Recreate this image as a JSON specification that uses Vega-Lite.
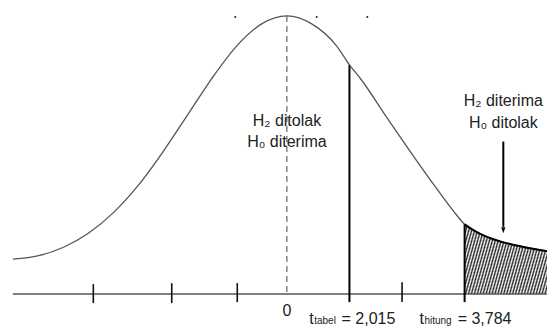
{
  "$schema": "https://vega.github.io/schema/vega-lite/v6.json",
  "width": 551,
  "height": 327,
  "autosize": {"type": "fit", "contains": "padding"},
  "padding": 0,
  "background": "white",
  "config": {"view": {"stroke": null}},
  "datasets": {
    "curve": [
      {"x": -8.832, "y": 0.14}, {"x": -8.0, "y": 0.154}, {"x": -7.2, "y": 0.188},
      {"x": -6.4, "y": 0.244}, {"x": -5.6, "y": 0.326}, {"x": -4.8, "y": 0.435},
      {"x": -4.0, "y": 0.57}, {"x": -3.2, "y": 0.719}, {"x": -2.4, "y": 0.869},
      {"x": -1.6, "y": 0.998}, {"x": -0.8, "y": 1.085}, {"x": 0, "y": 1.116},
      {"x": 0.8, "y": 1.084}, {"x": 1.6, "y": 0.996}, {"x": 2.016, "y": 0.92},
      {"x": 2.4, "y": 0.86}, {"x": 3.2, "y": 0.712}, {"x": 4.0, "y": 0.568},
      {"x": 4.8, "y": 0.428}, {"x": 5.376, "y": 0.332}, {"x": 5.728, "y": 0.28},
      {"x": 6.08, "y": 0.252}, {"x": 6.656, "y": 0.22}, {"x": 7.36, "y": 0.196},
      {"x": 8.384, "y": 0.172}
    ],
    "shade": [
      {"x": 5.728, "y": 0.28}, {"x": 6.08, "y": 0.252}, {"x": 6.656, "y": 0.22},
      {"x": 7.36, "y": 0.196}, {"x": 8.384, "y": 0.172}
    ],
    "axis": [{"x": -8.832, "x2": 8.384, "y": 0}],
    "ticks": [
      {"x": -6.24, "y": 0.04, "y2": -0.036}, {"x": -3.712, "y": 0.044, "y2": -0.036},
      {"x": -1.6, "y": 0.044, "y2": -0.032}, {"x": 3.712, "y": 0.048, "y2": -0.032}
    ],
    "vlines": [
      {"x": 2.016, "y": 0.92, "y2": -0.032},
      {"x": 5.728, "y": 0.28, "y2": -0.032}
    ],
    "dashed": [{"x": 0, "y": 1.116, "y2": 0.008}],
    "arrow": [{"x": 6.976, "y": 0.612, "y2": 0.27}],
    "arrowhead": [{"x": 6.976, "y": 0.256}],
    "dots": [{"x": -1.664, "y": 1.112}, {"x": 0.96, "y": 1.112}, {"x": 2.592, "y": 1.112}],
    "labels": [
      {"x": 0, "y": 0.676, "label": "H₂ ditolak"},
      {"x": 0, "y": 0.592, "label": "H₀ diterima"},
      {"x": 6.976, "y": 0.756, "label": "H₂ diterima"},
      {"x": 6.976, "y": 0.668, "label": "H₀ ditolak"},
      {"x": 0, "y": -0.088, "label": "0"}
    ],
    "bigleft": [
      {"x": 0.72, "y": -0.12, "label": "t"},
      {"x": 1.76, "y": -0.12, "label": "= 2,015"},
      {"x": 4.272, "y": -0.12, "label": "t"},
      {"x": 5.504, "y": -0.12, "label": "= 3,784"}
    ],
    "subs": [
      {"x": 0.88, "y": -0.12, "label": "tabel"},
      {"x": 4.432, "y": -0.12, "label": "hitung"}
    ]
  },
  "encoding": {
    "x": {"field": "x", "type": "quantitative", "scale": {"domain": [-9.248, 8.384], "nice": false, "zero": false}, "axis": null},
    "y": {"field": "y", "type": "quantitative", "scale": {"domain": [-0.128, 1.18], "nice": false, "zero": false}, "axis": null}
  },
  "layer": [
    {
      "data": {"name": "shade"},
      "mark": {
        "type": "area",
        "interpolate": "monotone",
        "fill": {
          "gradient": "linear", "x1": 0, "y1": 0, "x2": 1.25, "y2": 0.3,
          "stops": [
            {"offset": 0, "color": "#222"}, {"offset": 0.0135, "color": "#fff"},
            {"offset": 0.027, "color": "#222"}, {"offset": 0.0405, "color": "#fff"},
            {"offset": 0.0541, "color": "#222"}, {"offset": 0.0676, "color": "#fff"},
            {"offset": 0.0811, "color": "#222"}, {"offset": 0.0946, "color": "#fff"},
            {"offset": 0.1081, "color": "#222"}, {"offset": 0.1216, "color": "#fff"},
            {"offset": 0.1351, "color": "#222"}, {"offset": 0.1486, "color": "#fff"},
            {"offset": 0.1622, "color": "#222"}, {"offset": 0.1757, "color": "#fff"},
            {"offset": 0.1892, "color": "#222"}, {"offset": 0.2027, "color": "#fff"},
            {"offset": 0.2162, "color": "#222"}, {"offset": 0.2297, "color": "#fff"},
            {"offset": 0.2432, "color": "#222"}, {"offset": 0.2568, "color": "#fff"},
            {"offset": 0.2703, "color": "#222"}, {"offset": 0.2838, "color": "#fff"},
            {"offset": 0.2973, "color": "#222"}, {"offset": 0.3108, "color": "#fff"},
            {"offset": 0.3243, "color": "#222"}, {"offset": 0.3378, "color": "#fff"},
            {"offset": 0.3514, "color": "#222"}, {"offset": 0.3649, "color": "#fff"},
            {"offset": 0.3784, "color": "#222"}, {"offset": 0.3919, "color": "#fff"},
            {"offset": 0.4054, "color": "#222"}, {"offset": 0.4189, "color": "#fff"},
            {"offset": 0.4324, "color": "#222"}, {"offset": 0.4459, "color": "#fff"},
            {"offset": 0.4595, "color": "#222"}, {"offset": 0.473, "color": "#fff"},
            {"offset": 0.4865, "color": "#222"}, {"offset": 0.5, "color": "#fff"},
            {"offset": 0.5135, "color": "#222"}, {"offset": 0.527, "color": "#fff"},
            {"offset": 0.5405, "color": "#222"}, {"offset": 0.5541, "color": "#fff"},
            {"offset": 0.5676, "color": "#222"}, {"offset": 0.5811, "color": "#fff"},
            {"offset": 0.5946, "color": "#222"}, {"offset": 0.6081, "color": "#fff"},
            {"offset": 0.6216, "color": "#222"}, {"offset": 0.6351, "color": "#fff"},
            {"offset": 0.6486, "color": "#222"}, {"offset": 0.6622, "color": "#fff"},
            {"offset": 0.6757, "color": "#222"}, {"offset": 0.6892, "color": "#fff"},
            {"offset": 0.7027, "color": "#222"}, {"offset": 0.7162, "color": "#fff"},
            {"offset": 0.7297, "color": "#222"}, {"offset": 0.7432, "color": "#fff"},
            {"offset": 0.7568, "color": "#222"}, {"offset": 0.7703, "color": "#fff"},
            {"offset": 0.7838, "color": "#222"}, {"offset": 0.7973, "color": "#fff"},
            {"offset": 0.8108, "color": "#222"}, {"offset": 0.8243, "color": "#fff"},
            {"offset": 0.8378, "color": "#222"}, {"offset": 0.8514, "color": "#fff"},
            {"offset": 0.8649, "color": "#222"}, {"offset": 0.8784, "color": "#fff"},
            {"offset": 0.8919, "color": "#222"}, {"offset": 0.9054, "color": "#fff"},
            {"offset": 0.9189, "color": "#222"}, {"offset": 0.9324, "color": "#fff"},
            {"offset": 0.9459, "color": "#222"}, {"offset": 0.9595, "color": "#fff"},
            {"offset": 0.973, "color": "#222"}, {"offset": 0.9865, "color": "#fff"},
            {"offset": 1, "color": "#222"}
          ]
        }
      },
      "encoding": {"y2": {"datum": 0}}
    },
    {
      "data": {"name": "axis"},
      "mark": {"type": "rule", "color": "#555", "strokeWidth": 1.5},
      "encoding": {"x2": {"field": "x2"}}
    },
    {
      "data": {"name": "ticks"},
      "mark": {"type": "rule", "color": "#111", "strokeWidth": 1.6},
      "encoding": {"y2": {"field": "y2"}}
    },
    {
      "data": {"name": "vlines"},
      "mark": {"type": "rule", "color": "#000", "strokeWidth": 2},
      "encoding": {"y2": {"field": "y2"}}
    },
    {
      "data": {"name": "dashed"},
      "mark": {"type": "rule", "color": "#444", "strokeWidth": 1, "strokeDash": [6, 4]},
      "encoding": {"y2": {"field": "y2"}}
    },
    {
      "data": {"name": "curve"},
      "mark": {"type": "line", "interpolate": "monotone", "color": "#555", "strokeWidth": 1.3}
    },
    {
      "data": {"name": "shade"},
      "mark": {"type": "line", "interpolate": "monotone", "color": "#000", "strokeWidth": 2}
    },
    {
      "data": {"name": "arrow"},
      "mark": {"type": "rule", "color": "#000", "strokeWidth": 2},
      "encoding": {"y2": {"field": "y2"}}
    },
    {
      "data": {"name": "arrowhead"},
      "mark": {"type": "point", "shape": "M-0.35,-0.5L0.35,-0.5L0,0.5Z", "size": 144, "filled": true, "color": "#000", "opacity": 1}
    },
    {
      "data": {"name": "dots"},
      "mark": {"type": "point", "shape": "circle", "size": 4, "filled": true, "color": "#222", "opacity": 1}
    },
    {
      "data": {"name": "labels"},
      "mark": {"type": "text", "align": "center", "baseline": "alphabetic", "font": "Liberation Sans, Arial, sans-serif", "fontSize": 16, "color": "#222"},
      "encoding": {"text": {"field": "label"}}
    },
    {
      "data": {"name": "bigleft"},
      "mark": {"type": "text", "align": "left", "baseline": "alphabetic", "font": "Liberation Sans, Arial, sans-serif", "fontSize": 16, "color": "#222"},
      "encoding": {"text": {"field": "label"}}
    },
    {
      "data": {"name": "subs"},
      "mark": {"type": "text", "align": "left", "baseline": "alphabetic", "font": "Liberation Sans, Arial, sans-serif", "fontSize": 10, "color": "#222"},
      "encoding": {"text": {"field": "label"}}
    }
  ]
}
